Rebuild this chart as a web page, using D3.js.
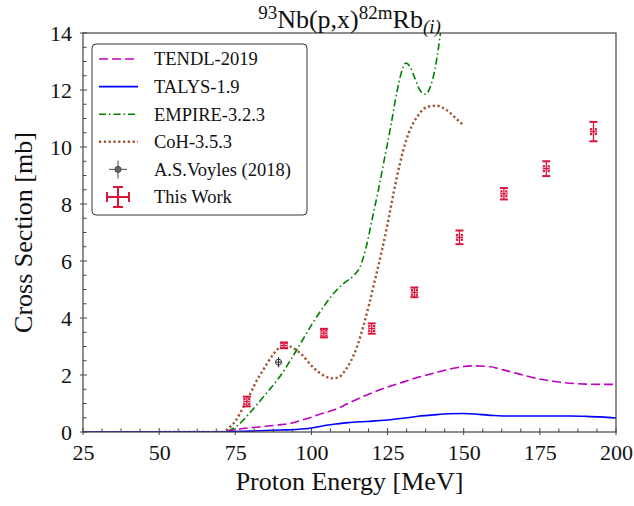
<!DOCTYPE html>
<html><head><meta charset="utf-8">
<script src="https://cdn.jsdelivr.net/npm/d3@7"></script>
<style>
body{margin:0;background:#fff;}
text{font-family:"Liberation Serif","Times New Roman",serif;fill:#111;}
</style></head>
<body><svg id="c" width="634" height="506"></svg>
<script>
// ---- data ----
const tendlE = [25,60,70,72,75,80,85,90,93,97,100,104,108,112,116,120,125,130,135,140,146,150,153,158,163,168,174,180,185,190,195,200];
const tendlV = [0,0,0,0.02,0.08,0.15,0.2,0.26,0.3,0.42,0.52,0.67,0.8,1.0,1.2,1.38,1.58,1.75,1.92,2.06,2.22,2.3,2.32,2.3,2.18,2.04,1.88,1.77,1.71,1.68,1.67,1.67];
const talysE = [25,60,70,75,80,85,90,95,100,104,108,112,116,120,125,130,135,140,145,150,155,160,166,175,185,190,195,200];
const talysV = [0,0,0,0.02,0.03,0.05,0.07,0.09,0.14,0.22,0.28,0.33,0.36,0.38,0.42,0.48,0.55,0.6,0.64,0.65,0.62,0.58,0.56,0.56,0.56,0.55,0.53,0.49];
const empireE = [25,60,70,72,76,80,85,90,95,100,104,108,111,114,116,118,120,122,124,126,128,129.5,131,132.5,134,135.6,137.5,139,140.5,142,143.5];
const empireV = [0,0,0,0.02,0.25,0.7,1.33,2.0,2.85,3.75,4.4,4.95,5.25,5.5,5.8,6.5,7.5,8.5,9.6,10.7,11.9,12.6,12.95,12.8,12.4,12.0,11.85,12.1,12.7,13.7,15.0];
const cohE = [50,60,70,71,73,75,78,80,82,84,86,88,90,91,93,95,97,99,101,103,105,107,109,111,113,115,117,119,121,123,125,127,129,131,133,135,137,139,141,143,145,147,150];
const cohV = [0,0,0,0,0.15,0.38,0.95,1.36,1.8,2.15,2.5,2.8,3.0,3.05,3.0,2.88,2.7,2.45,2.22,2.05,1.93,1.88,1.92,2.15,2.5,3.0,3.7,4.5,5.4,6.3,7.3,8.4,9.4,10.2,10.75,11.1,11.35,11.43,11.45,11.38,11.25,11.05,10.75];
const workE = [78.8,91.0,104.1,119.8,133.8,148.6,163.2,177.1,192.6];
const workV = [1.07,3.04,3.47,3.63,4.90,6.83,8.36,9.24,10.54];
const workErr = [0.17,0.1,0.15,0.18,0.17,0.24,0.2,0.26,0.34];
const workEErr = [1,1,1,1,1,1,1,1,1];
const voylesE = [89.2];
const voylesV = [2.45];
const voylesErr = [0.18];
const xTicks = [25,50,75,100,125,150,175,200];
const yTicks = [0,2,4,6,8,10,12,14];
const legendLabels = ["TENDL-2019","TALYS-1.9","EMPIRE-3.2.3","CoH-3.5.3","A.S.Voyles (2018)","This Work"];

// ---- layout ----
const svg = d3.select("#c");
const L=83, R=616, T=33, B=432;
const x = d3.scaleLinear().domain([25,200]).range([L,R]);
const y = d3.scaleLinear().domain([0,14]).range([B,T]);
const axisCol="#444";

svg.append("defs").append("clipPath").attr("id","clip")
  .append("rect").attr("x",L).attr("y",T).attr("width",R-L).attr("height",B-T);

const plot = svg.append("g").attr("clip-path","url(#clip)");
const line = d3.line().x(d=>x(d[0])).y(d=>y(d[1])).curve(d3.curveMonotoneX);
const zip=(a,b)=>a.map((v,i)=>[v,b[i]]);

const series = [
  {E:tendlE,V:tendlV,col:"#BF00BF",dash:"9,4",w:1.6},
  {E:talysE,V:talysV,col:"#0000FF",dash:null,w:1.6},
  {E:empireE,V:empireV,col:"#008000",dash:"7,3,1.5,3",w:1.6},
  {E:cohE,V:cohV,col:"#A0522D",dash:"2.2,2.6",w:2.4}
];
// draw in order: coh underneath? draw all
[3,2,0,1].forEach(i=>{
  const s=series[i];
  plot.append("path").attr("d",line(zip(s.E,s.V))).attr("fill","none")
    .attr("stroke",s.col).attr("stroke-width",s.w)
    .attr("stroke-dasharray",s.dash);
});

// Voyles point
voylesE.forEach((e,i)=>{
  const cx=x(e), cy=y(voylesV[i]);
  plot.append("line").attr("x1",cx).attr("x2",cx).attr("y1",y(voylesV[i]-voylesErr[i])).attr("y2",y(voylesV[i]+voylesErr[i])).attr("stroke","#333").attr("stroke-width",1.2);
  plot.append("line").attr("x1",cx-3.5).attr("x2",cx+3.5).attr("y1",cy).attr("y2",cy).attr("stroke","#333").attr("stroke-width",1);
  plot.append("circle").attr("cx",cx).attr("cy",cy).attr("r",3).attr("fill","none").attr("stroke","#333").attr("stroke-width",1);
});

// This work points
function workMarker(g,cx,cy,yLo,yHi,xLo,xHi){
  g.append("rect").attr("x",cx-3.5).attr("y",cy-3.5).attr("width",7).attr("height",7).attr("fill","#DC143C");
  const col="#DC143C";
  // white halo then crimson
  [["#ffffff",2.6],[col,1.3]].forEach(([c,w])=>{
    g.append("line").attr("x1",cx).attr("x2",cx).attr("y1",yLo).attr("y2",yHi).attr("stroke",c).attr("stroke-width",w);
    g.append("line").attr("x1",xLo).attr("x2",xHi).attr("y1",cy).attr("y2",cy).attr("stroke",c).attr("stroke-width",w);
  });
  g.append("line").attr("x1",cx-4).attr("x2",cx+4).attr("y1",yLo).attr("y2",yLo).attr("stroke",col).attr("stroke-width",2);
  g.append("line").attr("x1",cx-4).attr("x2",cx+4).attr("y1",yHi).attr("y2",yHi).attr("stroke",col).attr("stroke-width",2);
}
workE.forEach((e,i)=>{
  workMarker(plot,x(e),y(workV[i]),y(workV[i]-workErr[i]),y(workV[i]+workErr[i]),x(e-workEErr[i]),x(e+workEErr[i]));
});

// ---- axes ----
const gx = svg.append("g").attr("transform",`translate(0,${B})`)
  .call(d3.axisBottom(x).tickValues(xTicks).tickSize(0).tickPadding(12));
gx.select(".domain").remove();
gx.selectAll("text").attr("font-size",22).attr("font-family","Liberation Serif").attr("fill","#111");
const gy = svg.append("g").attr("transform",`translate(${L},0)`)
  .call(d3.axisLeft(y).tickValues(yTicks).tickSize(0).tickPadding(11));
gy.select(".domain").remove();
gy.selectAll("text").attr("font-size",22).attr("font-family","Liberation Serif").attr("fill","#111");

// frame
svg.append("rect").attr("x",L).attr("y",T).attr("width",R-L).attr("height",B-T)
  .attr("fill","none").attr("stroke",axisCol).attr("stroke-width",1.2);

// ticks
const tk = svg.append("g").attr("stroke",axisCol).attr("stroke-width",1);
d3.range(25,200.01,6.25).forEach(v=>{
  const major = xTicks.includes(v);
  tk.append("line").attr("x1",x(v)).attr("x2",x(v)).attr("y1",B+(major?3:0)).attr("y2",B-(major?4:3.5));
});
d3.range(0,14.01,0.5).forEach(v=>{
  const major = yTicks.includes(v);
  tk.append("line").attr("y1",y(v)).attr("y2",y(v)).attr("x1",L-(major?3:0)).attr("x2",L+(major?4:3.5));
});

// labels
svg.append("text").attr("x",(L+R)/2).attr("y",490).attr("text-anchor","middle")
  .attr("font-size",26).text("Proton Energy [MeV]");
svg.append("text").attr("transform",`translate(32,${(T+B)/2}) rotate(-90)`).attr("text-anchor","middle")
  .attr("font-size",26).text("Cross Section [mb]");

// title
const title = svg.append("text").attr("x",(L+R)/2).attr("y",28).attr("text-anchor","middle").attr("font-size",26);
title.append("tspan").attr("font-size",19).attr("dy",-9).text("93");
title.append("tspan").attr("dy",9).text("Nb(p,x)");
title.append("tspan").attr("font-size",19).attr("dy",-9).text("82m");
title.append("tspan").attr("dy",9).text("Rb");
title.append("tspan").attr("font-size",19).attr("dy",5).attr("font-style","italic").text("(i)");

// legend
const lg = svg.append("g");
lg.append("rect").attr("x",92).attr("y",44).attr("width",215).attr("height",171).attr("rx",4)
  .attr("fill","#fff").attr("stroke","#333").attr("stroke-width",1);
const ly = d3.range(6).map(i=>59+i*27.6);
series.forEach((s,i)=>{
  lg.append("line").attr("x1",99).attr("x2",138).attr("y1",ly[i]).attr("y2",ly[i])
    .attr("stroke",s.col).attr("stroke-width",s.w).attr("stroke-dasharray",s.dash);
});
// voyles legend
{
  const cx=118, cy=ly[4];
  lg.append("line").attr("x1",cx-9).attr("x2",cx+9).attr("y1",cy).attr("y2",cy).attr("stroke","#666").attr("stroke-width",1.2);
  lg.append("line").attr("x1",cx).attr("x2",cx).attr("y1",cy-9).attr("y2",cy+9).attr("stroke","#666").attr("stroke-width",1.2);
  lg.append("circle").attr("cx",cx).attr("cy",cy).attr("r",3).attr("fill","#666").attr("stroke","#444");
}
{
  const cx=118, cy=ly[5], col="#DC143C";
  lg.append("line").attr("x1",cx-11).attr("x2",cx+11).attr("y1",cy).attr("y2",cy).attr("stroke",col).attr("stroke-width",2);
  lg.append("line").attr("x1",cx).attr("x2",cx).attr("y1",cy-10).attr("y2",cy+10).attr("stroke",col).attr("stroke-width",2);
  [[cx-11,cx-11,cy-5,cy+5],[cx+11,cx+11,cy-5,cy+5],[cx-5,cx+5,cy-10,cy-10],[cx-5,cx+5,cy+10,cy+10]].forEach(a=>{
    lg.append("line").attr("x1",a[0]).attr("x2",a[1]).attr("y1",a[2]).attr("y2",a[3]).attr("stroke",col).attr("stroke-width",2);
  });
}
legendLabels.forEach((t,i)=>{
  lg.append("text").attr("x",154).attr("y",ly[i]).attr("dy","0.35em").attr("font-size",18.5).text(t);
});
</script></body></html>
